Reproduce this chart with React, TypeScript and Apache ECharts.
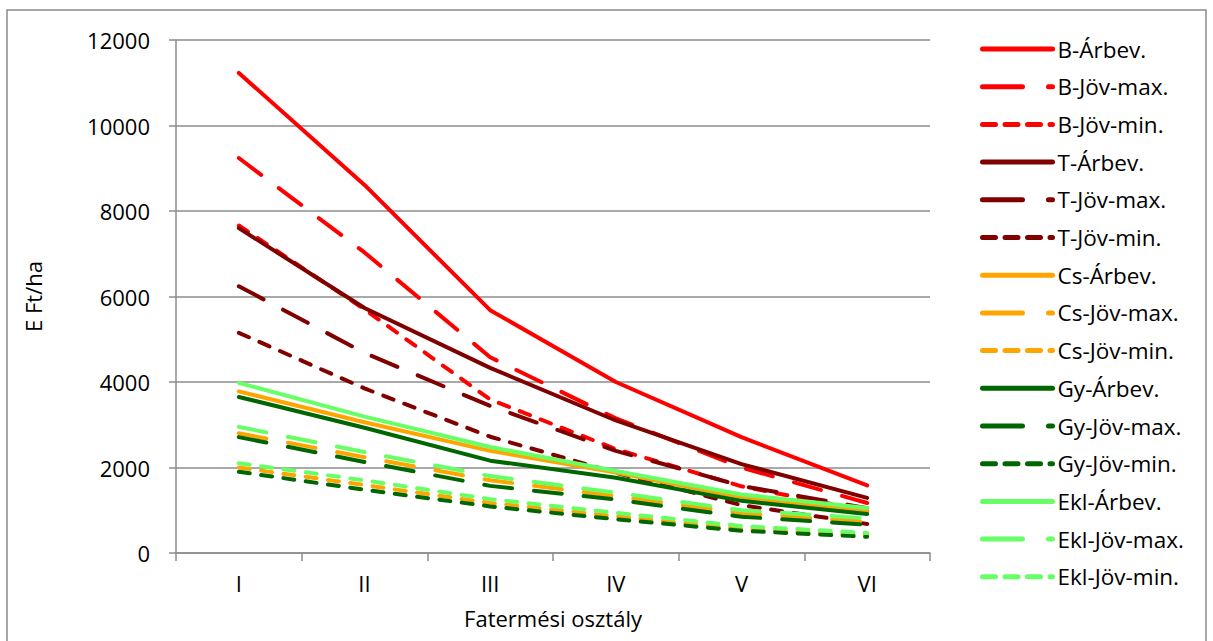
import React, { useEffect, useRef } from "react";
import * as echarts from "echarts";

// Site classes (fatermési osztály)
const classes = ["I", "II", "III", "IV", "V", "VI"];

// Revenue / future value per hectare, thousand Ft
const bArbev = [11230, 8610, 5680, 4000, 2710, 1580];
const bJovMax = [9240, 7030, 4580, 3150, 2000, 1170];
const bJovMin = [7660, 5700, 3590, 2430, 1560, 980];
const tArbev = [7600, 5730, 4330, 3100, 2080, 1290];
const tJovMax = [6240, 4680, 3440, 2390, 1570, 1050];
const tJovMin = [5150, 3850, 2720, 1880, 1120, 680];
const csArbev = [3780, 3060, 2390, 1880, 1300, 980];
const csJovMax = [2800, 2240, 1700, 1330, 930, 730];
const csJovMin = [2000, 1590, 1170, 860, 560, 420];
const gyArbev = [3650, 2930, 2160, 1760, 1220, 910];
const gyJovMax = [2710, 2130, 1570, 1250, 850, 660];
const gyJovMin = [1900, 1480, 1090, 790, 520, 380];
const eklArbev = [3980, 3190, 2480, 1920, 1370, 1050];
const eklJovMax = [2950, 2360, 1800, 1410, 1000, 810];
const eklJovMin = [2100, 1700, 1260, 940, 630, 470];

const yTicks = { min: 0, max: 12000, interval: 2000 };

const species = [
  { key: "B", color: "#FF0000", data: [bArbev, bJovMax, bJovMin] },
  { key: "T", color: "#800000", data: [tArbev, tJovMax, tJovMin] },
  { key: "Cs", color: "#FFA500", data: [csArbev, csJovMax, csJovMin] },
  { key: "Gy", color: "#006600", data: [gyArbev, gyJovMax, gyJovMin] },
  { key: "Ekl", color: "#66FF66", data: [eklArbev, eklJovMax, eklJovMin] },
];
const kinds = ["Árbev.", "Jöv-max.", "Jöv-min."];

const plotDash: any[] = ["solid", [28, 22], [11, 11.5]];
const legendDash: any[] = ["solid", [40, 26], [13, 9.5]];

const FONT = "Open Sans";

export default function App() {
  const ref = useRef<HTMLDivElement>(null);

  useEffect(() => {
    if (!ref.current) return;
    const chart = echarts.init(ref.current, undefined, { renderer: "svg" });

    const series: any[] = [];
    const legendData: any[] = [];
    species.forEach((sp) => {
      kinds.forEach((k, i) => {
        const name = `${sp.key}-${k}`;
        series.push({
          name,
          type: "line",
          data: sp.data[i],
          symbol: "none",
          color: sp.color,
          lineStyle: {
            color: sp.color,
            width: 4,
            type: plotDash[i],
            cap: "round",
            join: "round",
          },
        });
        legendData.push({
          name,
          itemStyle: { opacity: 0, borderWidth: 0 },
          lineStyle: {
            color: sp.color,
            width: 5,
            type: legendDash[i],
            cap: "round",
            opacity: 1,
          },
        });
      });
    });

    chart.setOption({
      animation: false,
      backgroundColor: "#ffffff",
      textStyle: { fontFamily: FONT },
      grid: { left: 176, right: 283, top: 40, bottom: 88, containLabel: false },
      graphic: [
        {
          type: "rect",
          shape: { x: 7, y: 10, width: 1199, height: 660 },
          style: { fill: "none", stroke: "#8c8c8c", lineWidth: 1.5 },
          silent: true,
        },
      ],
      legend: {
        orient: "vertical",
        left: 975,
        top: 31,
        itemWidth: 70,
        itemHeight: 14,
        itemGap: 11.7,
        data: legendData,
        textStyle: {
          fontFamily: FONT,
          fontSize: 22.5,
          lineHeight: 26,
          color: "#000",
        },
      },
      xAxis: {
        type: "category",
        data: classes,
        boundaryGap: true,
        name: "Fatermési osztály",
        nameLocation: "middle",
        nameGap: 54,
        nameTextStyle: { fontFamily: FONT, fontSize: 22, color: "#000" },
        axisLine: { lineStyle: { color: "#8c8c8c", width: 1.5 } },
        axisTick: { show: true, length: 8, lineStyle: { color: "#8c8c8c", width: 1.5 } },
        axisLabel: { fontFamily: FONT, fontSize: 22, color: "#000", margin: 19 },
        splitLine: { show: false },
      },
      yAxis: {
        type: "value",
        min: yTicks.min,
        max: yTicks.max,
        interval: yTicks.interval,
        name: "E Ft/ha",
        nameLocation: "middle",
        nameRotate: 90,
        nameGap: 132,
        nameTextStyle: { fontFamily: FONT, fontSize: 22, color: "#000" },
        axisLine: { show: true, lineStyle: { color: "#8c8c8c", width: 1.5 } },
        axisTick: { show: true, length: 7, lineStyle: { color: "#8c8c8c", width: 1.5 } },
        axisLabel: {
          fontFamily: FONT,
          fontSize: 22,
          color: "#000",
          margin: 26,
          formatter: (v: number) => String(v),
        },
        splitLine: { show: true, lineStyle: { color: "#8c8c8c", width: 1.5 } },
      },
      series,
    });

    return () => chart.dispose();
  }, []);

  return (
    <div
      ref={ref}
      style={{ position: "absolute", left: 0, top: 0, width: 1213, height: 641 }}
    />
  );
}
